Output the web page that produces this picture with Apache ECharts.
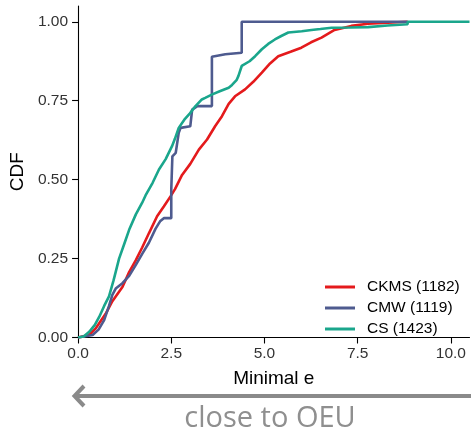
<!DOCTYPE html>
<html>
<head>
<meta charset="utf-8">
<script src="https://cdn.jsdelivr.net/npm/echarts@6/dist/echarts.min.js"></script>
<style>
  html, body { margin: 0; padding: 0; background: #fff; }
  #chart { width: 471px; height: 434px; }
</style>
</head>
<body>
<div id="chart"></div>
<script>
// Empirical CDF of the minimal e per method (step points: x, cumulative share)
const seriesNames = ['CKMS (1182)', 'CMW (1119)', 'CS (1423)'];
const seriesColors = ['#E41A1C', '#4E5B8F', '#1AA68C'];

const ckmsX = [0, 0.3, 0.48, 0.74, 0.92, 1.19, 1.37, 1.55, 1.72, 1.9, 2.12, 2.3, 2.48, 2.6, 2.79, 3.01, 3.24, 3.46, 3.68, 3.86, 4.04, 4.21, 4.48, 4.7, 4.93, 5.15, 5.37, 5.7, 5.99, 6.25, 6.53, 6.88, 7.33, 7.78, 8.31, 8.84];
const ckmsY = [0, 0.008, 0.03, 0.075, 0.115, 0.16, 0.207, 0.245, 0.285, 0.33, 0.384, 0.415, 0.447, 0.47, 0.515, 0.55, 0.595, 0.627, 0.67, 0.701, 0.74, 0.764, 0.786, 0.81, 0.839, 0.868, 0.891, 0.905, 0.918, 0.935, 0.95, 0.974, 0.987, 0.994, 0.997, 1.0];

const cmwX = [0, 0.39, 0.55, 0.7, 0.83, 0.92, 1.01, 1.19, 1.37, 1.55, 1.72, 1.9, 2.08, 2.2, 2.3, 2.5, 2.5, 2.53, 2.62, 2.7, 2.75, 3.01, 3.06, 3.2, 3.59, 3.59, 3.95, 4.39, 4.39, 8.84];
const cmwY = [0, 0.008, 0.025, 0.055, 0.1, 0.135, 0.155, 0.172, 0.195, 0.23, 0.265, 0.3, 0.345, 0.368, 0.378, 0.378, 0.468, 0.574, 0.585, 0.648, 0.664, 0.669, 0.722, 0.733, 0.733, 0.889, 0.897, 0.902, 1.0, 1.0];

const csX = [0, 0.15, 0.3, 0.45, 0.57, 0.7, 0.83, 0.95, 1.1, 1.25, 1.37, 1.55, 1.72, 1.81, 2.0, 2.17, 2.35, 2.52, 2.6, 2.7, 2.85, 3.0, 3.15, 3.32, 3.41, 3.6, 3.8, 4.04, 4.13, 4.25, 4.3, 4.39, 4.44, 4.6, 4.75, 4.93, 5.1, 5.28, 5.45, 5.64, 6.0, 6.26, 6.5, 6.8, 7.3, 7.78, 8.3, 8.84, 8.84, 10.5];
const csY = [0, 0.003, 0.018, 0.04, 0.066, 0.1, 0.13, 0.18, 0.25, 0.3, 0.341, 0.39, 0.427, 0.45, 0.49, 0.532, 0.565, 0.606, 0.63, 0.664, 0.69, 0.71, 0.733, 0.754, 0.759, 0.77, 0.78, 0.791, 0.8, 0.815, 0.828, 0.86, 0.865, 0.875, 0.891, 0.913, 0.93, 0.944, 0.955, 0.966, 0.97, 0.974, 0.977, 0.981, 0.982, 0.983, 0.988, 0.992, 1.0, 1.0];

const xTicks = [0, 2.5, 5, 7.5, 10];
const yTicks = [0, 0.25, 0.5, 0.75, 1];

const seriesX = [ckmsX, cmwX, csX];
const seriesY = [ckmsY, cmwY, csY];

const axisFont = 'Liberation Sans, Arial, sans-serif';

const chart = echarts.init(document.getElementById('chart'), null, { renderer: 'canvas' });

const lineSeries = seriesNames.map((name, i) => ({
  name: name,
  type: 'line',
  data: seriesX[i].map((x, j) => [x, seriesY[i][j]]),
  showSymbol: false,
  symbol: 'none',
  z: 2 + i,
  lineStyle: { color: seriesColors[i], width: 2.6 },
  itemStyle: { color: seriesColors[i] },
  animation: false
}));

chart.setOption({
  animation: false,
  backgroundColor: '#ffffff',
  grid: { left: 75.5, right: 1.5, top: 6, bottom: 96.5, containLabel: false },
  xAxis: {
    type: 'value',
    min: 0,
    max: 10.5,
    interval: 2.5,
    name: 'Minimal e',
    nameLocation: 'middle',
    nameGap: 32,
    nameTextStyle: { fontFamily: axisFont, fontSize: 19, color: '#000' },
    axisLine: { show: true, lineStyle: { color: '#000', width: 1.1 } },
    axisTick: { show: true, length: 6, lineStyle: { color: '#000', width: 1.1 }, customValues: xTicks },
    axisLabel: {
      fontFamily: axisFont, fontSize: 15.5, color: '#333', margin: 8,
      customValues: xTicks,
      formatter: v => v.toFixed(1)
    },
    splitLine: { show: false }
  },
  yAxis: {
    type: 'value',
    min: 0,
    max: 1.05,
    interval: 0.25,
    name: 'CDF',
    nameLocation: 'middle',
    nameGap: 47,
    nameRotate: 90,
    nameTextStyle: { fontFamily: axisFont, fontSize: 19, color: '#000' },
    axisLine: { show: true, lineStyle: { color: '#000', width: 1.1 } },
    axisTick: { show: true, length: 6, lineStyle: { color: '#000', width: 1.1 }, customValues: yTicks },
    axisLabel: {
      fontFamily: axisFont, fontSize: 15.5, color: '#333', margin: 10,
      customValues: yTicks,
      formatter: v => v.toFixed(2)
    },
    splitLine: { show: false }
  },
  legend: {
    orient: 'vertical',
    left: 320,
    top: 274,
    itemWidth: 30,
    itemHeight: 3,
    itemGap: 5,
    icon: 'rect',
    data: seriesNames,
    textStyle: { fontFamily: axisFont, fontSize: 15.5, color: '#000', padding: [0, 0, 0, 7] }
  },
  series: lineSeries,
  graphic: [
    {
      type: 'line',
      shape: { x1: 471, y1: 396, x2: 75, y2: 396 },
      style: { stroke: '#8a8a8a', lineWidth: 4 }
    },
    {
      type: 'polyline',
      shape: { points: [[84, 386], [74.5, 396], [84, 406]] },
      style: { stroke: '#8a8a8a', lineWidth: 4, fill: null, lineJoin: 'miter' }
    },
    {
      type: 'text',
      x: 270,
      y: 433,
      style: {
        text: 'close to OEU',
        fontFamily: 'Open Sans, Noto Sans, sans-serif',
        fontSize: 29,
        fill: '#8f8f8f',
        textAlign: 'center',
        textVerticalAlign: 'bottom'
      }
    }
  ]
});
</script>
</body>
</html>
